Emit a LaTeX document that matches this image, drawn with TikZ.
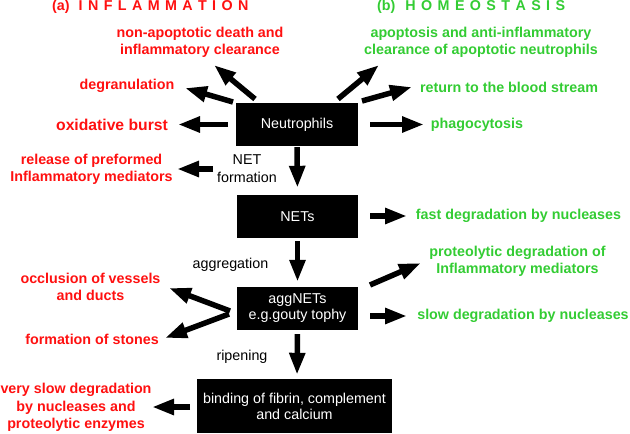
\documentclass[tikz,border=0pt]{standalone}
\usepackage{fontspec}
\setmainfont{Liberation Sans}
\usetikzlibrary{arrows.meta}
\definecolor{infred}{RGB}{255,16,16}
\definecolor{homgreen}{RGB}{51,204,51}
\newcommand{\lsp}{\hspace{5.4pt}}
\tikzset{
  arr/.style={line width=5.5pt,-{Triangle[length=22pt,width=15pt]}},
  box/.style={fill=black,text=white,align=center,inner sep=0pt,font=\fontsize{14.3}{16}\selectfont},
  redlab/.style={text=infred,align=center,inner sep=0pt,font=\fontsize{14.3}{17}\selectfont\bfseries},
  greenlab/.style={text=homgreen,align=center,inner sep=0pt,font=\fontsize{14.3}{17}\selectfont\bfseries},
  blacklab/.style={text=black,align=center,inner sep=0pt,font=\fontsize{14.3}{18}\selectfont},
  head/.style={inner sep=0pt,anchor=west,font=\fontsize{14.3}{17}\selectfont\bfseries}
}
\begin{document}
\begin{tikzpicture}[x=1pt,y=-1pt]
\useasboundingbox (0,0) rectangle (630,434);
% headings
\node[head,text=infred] (ha) at (52,7) {(a)\hspace{9pt}I\lsp N\lsp F\lsp L\lsp A\lsp M\lsp M\lsp A\lsp T\lsp I\lsp O\lsp N};
\node[head,text=homgreen] (hb) at (377,7) {(b)\hspace{10pt}H\lsp O\lsp M\lsp E\lsp O\lsp S\lsp T\lsp A\lsp S\lsp I\lsp S};
% boxes
\node[box,minimum width=122pt,minimum height=43pt] (neut) at (297,124.5) {Neutrophils};
\node[box,minimum width=121pt,minimum height=43pt] (nets) at (297.5,216.5) {NETs};
\node[box,minimum width=121pt,minimum height=43pt] (agg) at (297.5,308.5) {aggNETs\\e.g.gouty tophy};
\node[box,minimum width=195pt,minimum height=54pt] (bind) at (294.5,406) {binding of fibrin, complement\\and calcium};
% red labels
\node[redlab] (nonapop) at (200,42.5) {non-apoptotic death and\\inflammatory clearance};
\node[redlab] (degran) at (127,86) {degranulation};
\node[redlab,font=\fontsize{15.7}{18}\selectfont\bfseries] (oxid) at (112,125) {oxidative burst};
\node[redlab] (release) at (91.5,169) {release of preformed\\Inflammatory mediators};
\node[redlab] (occl) at (90.5,286.5) {occlusion of vessels\\and ducts};
\node[redlab] (stones) at (92,339) {formation of stones};
\node[redlab,font=\fontsize{14.3}{17.5}\selectfont\bfseries] (vslow) at (76,407.5) {very slow degradation\\by nucleases and\\proteolytic enzymes};
% green labels
\node[greenlab] (apop) at (481,42.5) {apoptosis and anti-inflammatory\\clearance of apoptotic neutrophils};
\node[greenlab] (blood) at (509,87) {return to the blood stream};
\node[greenlab] (phago) at (477,125) {phagocytosis};
\node[greenlab] (fast) at (518.5,216) {fast degradation by nucleases};
\node[greenlab] (proteo) at (517.5,261.5) {proteolytic degradation of\\Inflammatory mediators};
\node[greenlab] (slow) at (523,316) {slow degradation by nucleases};
% black labels
\node[blacklab] (netf) at (247,169) {NET\\formation};
\node[blacklab] (aggr) at (230.5,265) {aggregation};
\node[blacklab] (ripe) at (242,357) {ripening};
% arrow coordinates
\coordinate (t1) at (255,99);  \coordinate (h1) at (214,65);
\coordinate (t2) at (233,102); \coordinate (h2) at (185,88);
\coordinate (t3) at (228,124.5); \coordinate (h3) at (178,124.5);
\coordinate (t4) at (213,169); \coordinate (h4) at (177,169);
\coordinate (t5) at (338,99);  \coordinate (h5) at (379,65);
\coordinate (t6) at (362,101); \coordinate (h6) at (412,87);
\coordinate (t7) at (370,124.5); \coordinate (h7) at (424,124.5);
\coordinate (t8) at (370,216); \coordinate (h8) at (407,216);
\coordinate (t9) at (370,285); \coordinate (h9) at (421,263);
\coordinate (t10) at (370,316); \coordinate (h10) at (407,316);
\coordinate (t11) at (230,311); \coordinate (h11) at (169,288);
\coordinate (t12) at (229,314); \coordinate (h12) at (165,338);
\coordinate (t13) at (190,407); \coordinate (h13) at (152,407);
% vertical arrows
\draw[arr,shorten <=1pt,shorten >=7pt] (neut.south) -- (nets.north);
\draw[arr,shorten <=3pt,shorten >=5pt] (nets.south) -- (agg.north);
\draw[arr,shorten <=4pt,shorten >=4pt] (agg.south) -- ([xshift=2.5pt]bind.north);
% side arrows
\foreach \i in {1,...,13} {\draw[arr] (t\i) -- (h\i);}
\end{tikzpicture}
\end{document}
